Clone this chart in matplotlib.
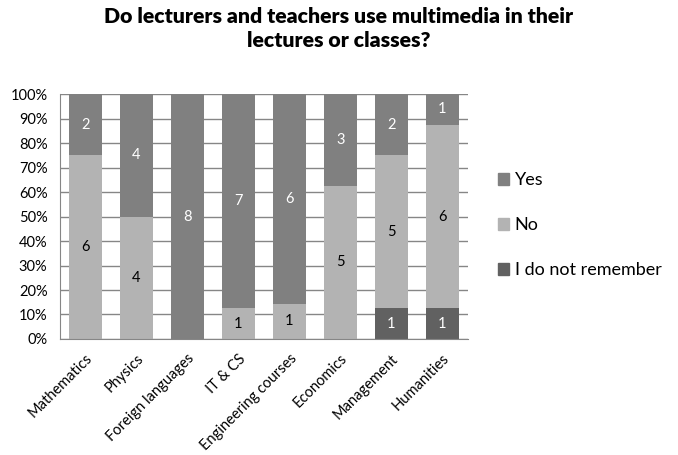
import numpy as np
import matplotlib.pyplot as plt
from matplotlib.ticker import PercentFormatter
from matplotlib.patches import Patch

plt.rcParams['font.family'] = ['Lato', 'DejaVu Sans']

subjects = ['Mathematics', 'Physics', 'Foreign languages', 'IT & CS',
            'Engineering courses', 'Economics', 'Management', 'Humanities']
yes = [2, 4, 8, 7, 6, 3, 2, 1]
no = [6, 4, 0, 1, 1, 5, 5, 6]
dont_remember = [0, 0, 0, 0, 0, 0, 1, 1]

series = [
    ('I do not remember', dont_remember, '#616161', 'white'),
    ('No', no, '#b3b3b3', 'black'),
    ('Yes', yes, '#808080', 'white'),
]

totals = np.array(yes) + np.array(no) + np.array(dont_remember)
x = np.arange(len(subjects))

fig = plt.figure(figsize=(6.78, 4.55), dpi=100)
ax = fig.add_axes([0.0885, 0.255, 0.6015, 0.538])

bottom = np.zeros(len(subjects))
for name, vals, color, txt in series:
    share = np.array(vals) / totals
    ax.bar(x, share, 0.64, bottom=bottom, color=color, zorder=2)
    for xi, v, b, s in zip(x, vals, bottom, share):
        if v > 0:
            ax.text(xi, b + s / 2, str(v), ha='center', va='center',
                    color=txt, fontsize=10.5, zorder=3)
    bottom += share

ax.set_xlim(-0.5, len(subjects) - 0.5)
ax.set_ylim(0, 1)
ax.set_yticks(np.linspace(0, 1, 11))
ax.yaxis.set_major_formatter(PercentFormatter(1.0, decimals=0))
ax.yaxis.grid(True, color='#868686', linewidth=1, zorder=1)
ax.set_axisbelow(True)

ax.set_xticks(x)
ax.set_xticklabels(subjects, rotation=45, ha='right', rotation_mode='anchor')
ax.tick_params(axis='both', length=0, labelsize=10.5)
ax.tick_params(axis='y', pad=9)
ax.tick_params(axis='x', pad=9)

for side in ['top', 'right']:
    ax.spines[side].set_visible(False)
ax.spines['left'].set_color('#868686')
ax.spines['bottom'].set_color('#868686')

fig.suptitle('Do lecturers and teachers use multimedia in their\nlectures or classes?',
             x=0.5, y=0.985, fontsize=15.3, fontweight='heavy', linespacing=1.3)

handles = [Patch(color=c) for _, _, c, _ in reversed(series)]
labels = [n for n, _, _, _ in reversed(series)]
fig.legend(handles, labels, loc='center left', bbox_to_anchor=(0.71, 0.505),
           frameon=False, fontsize=13, handlelength=0.65, handleheight=0.65,
           handletextpad=0.3, labelspacing=1.6)

fig.savefig('out.png', dpi=100)
